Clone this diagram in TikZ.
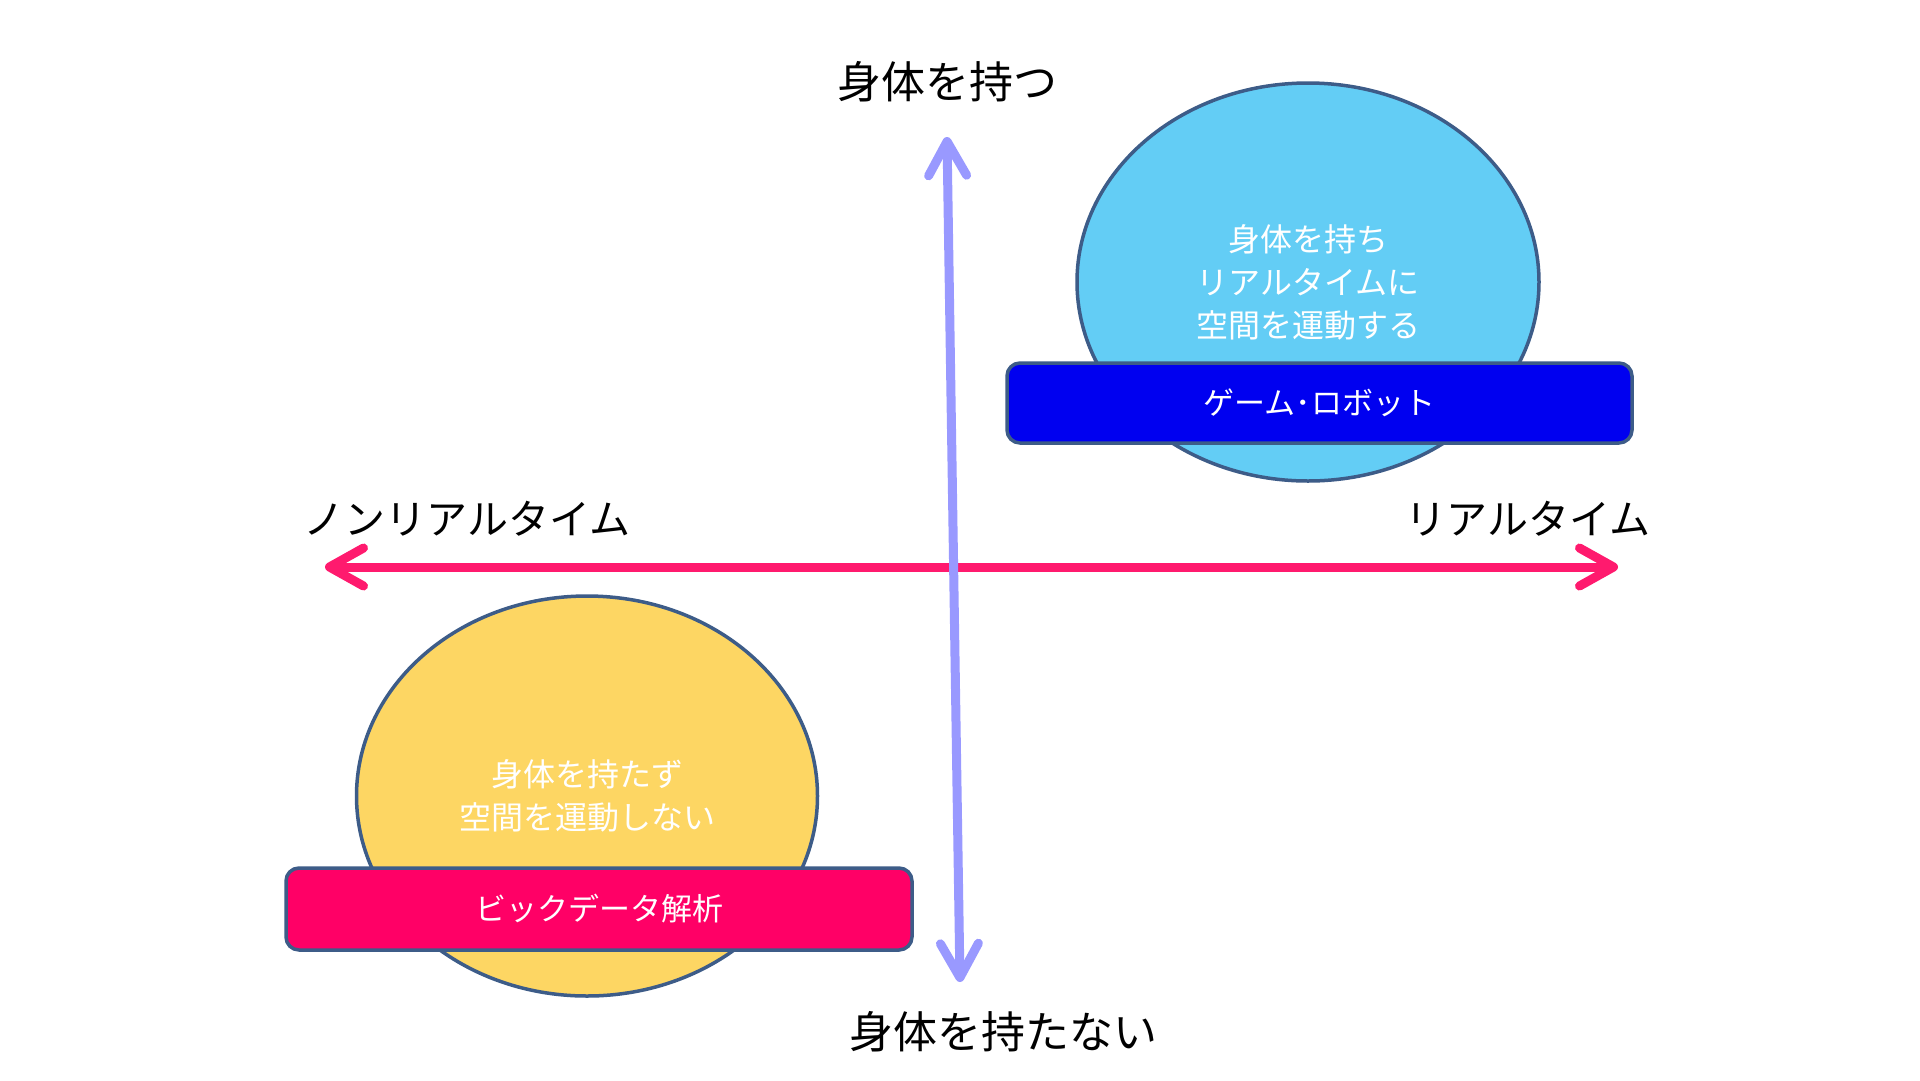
\documentclass[tikz,border=0pt]{standalone}
\usepackage{fontspec}
\setmainfont{Noto Sans CJK JP}
\usetikzlibrary{shapes.geometric,arrows.meta}
\definecolor{skyfill}{HTML}{63CDF5}
\definecolor{sunfill}{HTML}{FDD663}
\definecolor{edgeblue}{HTML}{3D5C88}
\definecolor{boxblue}{HTML}{0000F0}
\definecolor{boxred}{HTML}{FF0066}
\definecolor{axisred}{HTML}{FF1A6E}
\definecolor{axisviolet}{HTML}{9999FF}
\tikzset{
  blob/.style={ellipse, draw=edgeblue, line width=3.5pt, inner sep=0pt, text=white,
    align=center, font=\fontsize{32}{43}\selectfont},
  tagbox/.style={rectangle, rounded corners=13pt, draw=edgeblue, line width=3.5pt,
    inner sep=0pt, text=white, font=\fontsize{31}{40}\selectfont},
  axislabel/.style={text=black, inner sep=0pt},
  axisline/.style={line width=9pt, line cap=round,
    {Straight Barb[length=34pt,width=38pt,round]}-{Straight Barb[length=34pt,width=38pt,round]}}
}
\begin{document}
\begin{tikzpicture}[x=1pt,y=-1pt]
\useasboundingbox (0,0) rectangle (1920,1080);
\fill[white] (0,0) rectangle (1920,1080);
% axes
\coordinate (hl) at (325,567);
\coordinate (hr) at (1618,567);
\coordinate (vt) at (947,137);
\coordinate (vb) at (960,982);
\draw[axisline, draw=axisred] (hl) -- (hr);
\draw[axisline, draw=axisviolet] (vt) -- (vb);
% axis labels
\node[axislabel, font=\fontsize{44}{50}\selectfont] (top) at (947,82) {身体を持つ};
\node[axislabel, font=\fontsize{44}{50}\selectfont] (bottom) at (1003,1032) {身体を持たない};
\node[axislabel, font=\fontsize{41}{48}\selectfont] (left) at (467,519) {ノンリアルタイム};
\node[axislabel, font=\fontsize{41}{48}\selectfont] (right) at (1528,519) {リアルタイム};
% upper right
\node[blob, fill=skyfill, minimum width=462pt, minimum height=398pt] (sky) at (1308,282)
  {身体を持ち\\リアルタイムに\\空間を運動する};
\node[tagbox, fill=boxblue, minimum width=625pt, minimum height=80pt] (game) at (1319.5,403) {ゲーム･ロボット};
% lower left
\node[blob, fill=sunfill, minimum width=461pt, minimum height=400pt] (sun) at (587,796)
  {身体を持たず\\空間を運動しない};
\node[tagbox, fill=boxred, minimum width=626pt, minimum height=82pt] (data) at (599,909) {ビックデータ解析};
\end{tikzpicture}
\end{document}
